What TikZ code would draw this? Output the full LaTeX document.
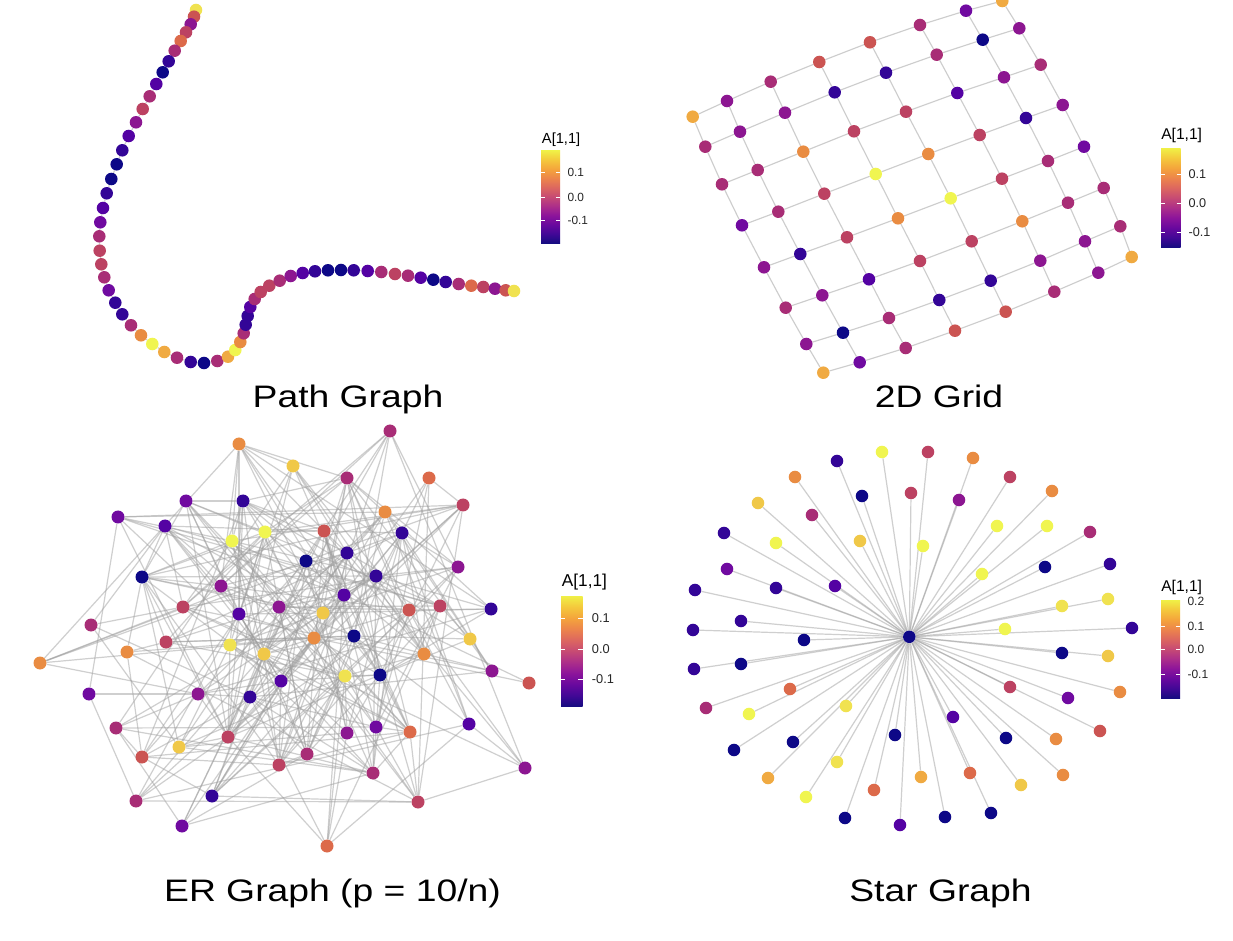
\documentclass[tikz,border=0pt]{standalone}
\usepackage{fontspec}
\setmainfont{Liberation Sans}
\newfontfamily\titlefont[FakeStretch=1.2]{Liberation Sans}
\pgfdeclarelayer{back}
\pgfdeclarelayer{bg}
\pgfsetlayers{back,bg,main}

\definecolor{cN}{RGB}{13,8,135}
\definecolor{cD}{RGB}{51,5,151}
\definecolor{cI}{RGB}{84,2,163}
\definecolor{cP}{RGB}{112,10,160}
\definecolor{cV}{RGB}{140,22,145}
\definecolor{cM}{RGB}{168,45,118}
\definecolor{cR}{RGB}{188,66,98}
\definecolor{cRd}{RGB}{203,84,82}
\definecolor{cO1}{RGB}{220,106,74}
\definecolor{cO}{RGB}{233,140,66}
\definecolor{cOy}{RGB}{240,170,66}
\definecolor{cY1}{RGB}{240,200,72}
\definecolor{cYd}{RGB}{240,226,80}
\definecolor{cY}{RGB}{240,245,80}

\definecolor{pl0}{RGB}{20,12,128}
\definecolor{pl1}{RGB}{65,8,150}
\definecolor{pl2}{RGB}{104,8,158}
\definecolor{pl3}{RGB}{140,20,155}
\definecolor{pl4}{RGB}{172,46,138}
\definecolor{pl5}{RGB}{198,74,116}
\definecolor{pl6}{RGB}{220,102,96}
\definecolor{pl7}{RGB}{236,132,76}
\definecolor{pl8}{RGB}{244,164,60}
\definecolor{pl9}{RGB}{244,200,60}
\definecolor{pl10}{RGB}{240,240,70}
\pgfdeclareverticalshading{plasma}{100bp}{color(0bp)=(pl0); color(25bp)=(pl0); color(30bp)=(pl1); color(35bp)=(pl2); color(40bp)=(pl3); color(45bp)=(pl4); color(50bp)=(pl5); color(55bp)=(pl6); color(60bp)=(pl7); color(65bp)=(pl8); color(70bp)=(pl9); color(75bp)=(pl10); color(100bp)=(pl10)}

\definecolor{edgec}{RGB}{205,205,205}
\definecolor{eredge}{RGB}{160,160,160}

\tikzset{
  dot/.style={circle, inner sep=0pt, minimum size=9.4pt, draw=none},
  erdot/.style={dot, minimum size=9.75pt},
  lnk/.style={draw=edgec, line width=0.85pt},
  erlnk/.style={draw=eredge, draw opacity=0.5, line width=0.9pt},
  ttl/.style={font={\titlefont\fontsize{23.3pt}{28pt}\selectfont}, inner sep=0pt, anchor=base, text=black},
  tickw/.style={draw=white, line width=0.6pt},
}

\begin{document}
\begin{tikzpicture}[x=0.75pt,y=-0.75pt]
\begin{pgfonlayer}{back}
\fill[white] (0,0) rectangle (1233,941);
\end{pgfonlayer}
\useasboundingbox (0,0) rectangle (1233,941);

% ---------------- Path graph ----------------
\foreach \x/\y/\c [count=\k] in {
196.0/10.0/cYd, 194.0/16.7/cRd, 190.7/24.3/cV, 186.0/32.3/cR, 180.7/41.0/cO1, 174.7/50.7/cM, 168.7/61.3/cD, 162.7/72.3/cN, 156.3/84.0/cI, 149.7/96.3/cM, 142.7/109.0/cR, 136.0/122.3/cV, 128.7/136.0/cI, 122.3/150.3/cD, 116.7/164.3/cN, 111.3/179.0/cN, 106.7/193.3/cD, 103.0/208.0/cI, 100.3/222.3/cP, 99.3/236.3/cM, 99.7/250.7/cR, 101.3/264.3/cR, 104.3/277.3/cM, 108.7/290.3/cP, 115.3/302.7/cD, 122.3/314.3/cD, 131.0/325.3/cM, 141.0/335.3/cO, 152.3/344.0/cY, 164.3/352.0/cOy, 177.0/357.7/cM, 190.7/362.0/cD, 204.0/363.0/cN, 217.3/361.0/cM, 228.0/356.7/cOy, 235.3/350.0/cY, 240.3/342.0/cO, 243.7/333.3/cM, 245.7/324.7/cD, 247.7/316.0/cD, 250.3/307.0/cI, 254.7/299.0/cM, 260.7/292.0/cR, 269.3/285.7/cR, 279.7/280.7/cM, 290.7/276.0/cV, 302.7/273.0/cI, 315.0/271.3/cD, 328.0/270.3/cN, 341.0/270.0/cN, 353.7/270.3/cD, 367.7/271.0/cI, 381.3/272.0/cM, 395.0/274.0/cR, 408.0/275.7/cM, 420.7/277.7/cI, 433.3/279.7/cN, 445.7/282.0/cD, 458.7/284.0/cM, 471.3/285.7/cO1, 483.3/287.0/cR, 495.0/288.7/cV, 505.7/290.3/cRd, 514.0/291.0/cYd}
  \node[dot, fill=\c] (p\k) at (\x,\y) {};
\begin{pgfonlayer}{bg}
\foreach \k in {1,...,63}{\pgfmathtruncatemacro\kn{\k+1}\draw[lnk] (p\k) -- (p\kn);}
\end{pgfonlayer}

% ---------------- 2D grid ----------------
\foreach \x/\y/\c [count=\k from 0] in {
692.7/116.7/cOy, 727.0/101.0/cV, 770.7/81.7/cM, 819.3/62.0/cRd, 870.0/42.3/cRd, 920.0/25.0/cM, 966.0/10.7/cP, 1002.3/1.0/cOy,
705.3/146.7/cM, 740.0/131.7/cV, 785.0/112.7/cV, 834.7/92.3/cD, 886.0/72.7/cD, 936.7/54.7/cM, 982.7/39.7/cN, 1019.3/28.3/cV,
722.0/184.3/cM, 757.7/170.0/cM, 803.3/151.7/cO, 854.0/131.3/cR, 906.0/111.7/cR, 957.3/93.0/cI, 1004.0/77.3/cV, 1040.7/64.7/cM,
742.0/225.3/cP, 778.3/211.7/cM, 824.3/193.7/cR, 875.7/174.0/cY, 928.3/154.0/cO, 979.7/135.0/cR, 1026.0/118.0/cD, 1062.7/105.0/cV,
764.0/267.3/cV, 800.3/254.0/cD, 847.0/237.3/cR, 898.0/218.3/cO, 950.7/198.3/cY, 1002.0/178.7/cR, 1048.0/161.0/cM, 1084.0/146.7/cP,
785.7/307.7/cM, 822.3/295.3/cV, 869.0/279.3/cI, 920.0/261.0/cR, 971.7/241.3/cR, 1022.3/221.3/cO, 1068.0/202.7/cM, 1103.7/188.0/cM,
806.3/344.0/cV, 843.0/332.7/cN, 889.0/318.0/cM, 939.3/300.0/cD, 990.7/280.7/cD, 1040.3/260.7/cV, 1085.0/241.3/cV, 1120.3/226.3/cM,
823.3/372.7/cOy, 859.7/362.3/cP, 905.7/348.0/cM, 955.0/330.7/cRd, 1005.7/311.7/cRd, 1054.3/291.7/cM, 1098.3/272.7/cV, 1131.7/257.0/cOy}
  \node[dot, fill=\c] (g\k) at (\x,\y) {};
\begin{pgfonlayer}{bg}
\foreach \r in {0,...,7}{\foreach \c in {0,...,6}{\pgfmathtruncatemacro\ga{8*\r+\c}\pgfmathtruncatemacro\gb{\ga+1}\draw[lnk] (g\ga) -- (g\gb);}}
\foreach \r in {0,...,6}{\foreach \c in {0,...,7}{\pgfmathtruncatemacro\ga{8*\r+\c}\pgfmathtruncatemacro\gb{\ga+8}\draw[lnk] (g\ga) -- (g\gb);}}
\end{pgfonlayer}

% ---------------- ER graph ----------------
\foreach \x/\y/\c [count=\k] in {
239/444/cO, 293/466/cY1, 186/501/cP, 243/501/cD, 118/517/cP, 165/526/cI, 232/541/cY, 265/532/cY, 142/577/cN, 221/586/cV, 183/607/cR, 279/607/cV, 239/614/cI, 91/625/cM, 166/642/cR, 230/645/cYd, 264/654/cY1, 127/652/cO, 40/663/cO, 281/681/cI, 89/694/cP, 198/694/cV, 250/697/cD, 116/728/cM, 228/737/cR, 179/747/cY1, 142/757/cRd, 279/765/cR, 136/801/cM, 212/796/cD, 182/826/cP,
390/431/cM, 347/478/cM, 429/478/cO1, 463/505/cR, 385/512/cO, 324/531/cRd, 402/533/cD, 306/561/cN, 347/553/cD, 376/576/cD, 458/567/cV, 344/595/cI, 323/613/cY1, 409/610/cRd, 440/606/cR, 491/609/cD, 314/638/cO, 354/636/cN, 470/639/cY1, 424/654/cO, 345/676/cYd, 380/675/cN, 492/671/cV, 529/683/cRd, 376/727/cP, 347/733/cV, 410/732/cO1, 469/724/cI, 307/754/cM, 373/773/cM, 525/768/cV, 418/802/cR, 327/846/cO1}
  \node[erdot, fill=\c] (e\k) at (\x,\y) {};
\pgfmathsetseed{2718}
\begin{pgfonlayer}{bg}
\foreach \i in {1,...,63}{
  \pgfmathtruncatemacro\js{\i+1}
  \foreach \j in {\js,...,64}{
    \pgfpointdiff{\pgfpointanchor{e\i}{center}}{\pgfpointanchor{e\j}{center}}
    \pgfgetlastxy{\ddx}{\ddy}
    \pgfmathsetmacro\pr{0.4*exp(-veclen(\ddx,\ddy)/150)}
    \pgfmathsetmacro\rr{rnd}
    \ifdim\rr pt<\pr pt \draw[erlnk] (e\i) -- (e\j);\fi
  }
}
\end{pgfonlayer}

% ---------------- Star graph ----------------
\node[dot, fill=cN] (s0) at (909.3,636.8) {};
\foreach \x/\y/\c [count=\k] in {
882/452/cY, 837/461/cD, 795/477/cO, 911/493/cR, 862/496/cN, 758/503/cY1, 812/515/cM, 724/533/cD, 776/543/cY, 860/541/cY1, 727/569/cP, 835/586/cI, 776/588/cD, 695/590/cD, 741/621/cD, 693/630/cD, 804/640/cN, 694/669/cD, 741/664/cN, 790/689/cO1, 706/708/cM, 846/706/cYd, 749/714/cY, 734/750/cN, 793/742/cN, 895/735/cN, 837/762/cYd, 768/778/cOy, 874/790/cO1, 806/797/cY, 845/818/cN, 900/825/cI,
928/452/cR, 973/458/cO, 959/500/cV, 1010/477/cR, 1052/491/cO, 923/546/cY, 997/526/cY, 1047/526/cY, 1090/532/cM, 982/574/cY, 1045/567/cN, 1110/564/cD, 1062/606/cYd, 1108/599/cYd, 1005/629/cY, 1132/628/cD, 1062/653/cN, 1108/656/cY1, 1010/687/cR, 1068/698/cP, 1120/692/cO, 953/717/cI, 1100/731/cRd, 1006/738/cN, 1056/739/cO, 921/777/cOy, 970/773/cO1, 1021/785/cY1, 1063/775/cO, 945/817/cN, 991/813/cN}
  \node[dot, fill=\c] (s\k) at (\x,\y) {};
\begin{pgfonlayer}{bg}
\foreach \k in {1,...,63}{\draw[erlnk] (s0) -- (s\k);}
\end{pgfonlayer}

% ---------------- Titles ----------------
\node[ttl] (t1) at (348,407.5) {Path Graph};
\node[ttl] (t2) at (939,407.5) {2D Grid};
\node[ttl] (t3) at (332.5,901.7) {ER Graph (p = 10/n)};
\node[ttl] (t4) at (940.5,901.7) {Star Graph};

% ---------------- Legends ----------------
% legend 1
\node[anchor=base west, inner sep=0pt, font=\fontsize{11pt}{13pt}\selectfont] (lg1) at (541.7,143.3) {A[1,1]};
\shade[shading=plasma] (541,150.7) rectangle (560,243.3);
\foreach \yy/\tt [count=\q] in {172.7/0.1, 197.3/0.0, 220/-0.1}{
  \draw[tickw] (541,\yy) -- (544.8,\yy) (556.2,\yy) -- (560,\yy);
  \node[anchor=west, inner sep=0pt, text=black!85, font=\fontsize{8.9pt}{10pt}\selectfont] (la\q) at (567.3,\yy) {\tt};
}
% legend 2
\node[anchor=base west, inner sep=0pt, font=\fontsize{11.7pt}{13pt}\selectfont] (lg2) at (1161,140) {A[1,1]};
\shade[shading=plasma] (1161,148.3) rectangle (1180.7,247.7);
\foreach \yy/\tt [count=\q] in {174.3/0.1, 203.3/0.0, 232.3/-0.1}{
  \draw[tickw] (1161,\yy) -- (1165,\yy) (1176.7,\yy) -- (1180.7,\yy);
  \node[anchor=west, inner sep=0pt, text=black!85, font=\fontsize{9.5pt}{11pt}\selectfont] (lb\q) at (1188.3,\yy) {\tt};
}
% legend 3
\node[anchor=base west, inner sep=0pt, font=\fontsize{12.9pt}{15pt}\selectfont] (lg3) at (561.7,586) {A[1,1]};
\shade[shading=plasma] (561,596) rectangle (582.7,706.7);
\foreach \yy/\tt [count=\q] in {618.3/0.1, 649/0.0, 679/-0.1}{
  \draw[tickw] (561,\yy) -- (565.3,\yy) (578.4,\yy) -- (582.7,\yy);
  \node[anchor=west, inner sep=0pt, text=black!85, font=\fontsize{9.6pt}{11pt}\selectfont] (lc\q) at (591.7,\yy) {\tt};
}
% legend 4
\node[anchor=base west, inner sep=0pt, font=\fontsize{11.7pt}{13pt}\selectfont] (lg4) at (1161,591) {A[1,1]};
\shade[shading=plasma] (1161,600) rectangle (1180,698.3);
\foreach \yy/\tt [count=\q] in {626/0.1, 649.3/0.0, 674.3/-0.1}{
  \draw[tickw] (1161,\yy) -- (1164.8,\yy) (1176.2,\yy) -- (1180,\yy);
  \node[anchor=west, inner sep=0pt, text=black!85, font=\fontsize{9pt}{10pt}\selectfont] (ld\q) at (1187.3,\yy) {\tt};
}
\node[anchor=west, inner sep=0pt, text=black!85, font=\fontsize{9pt}{10pt}\selectfont] (ld0) at (1187.3,601.7) {0.2};
\end{tikzpicture}
\end{document}
